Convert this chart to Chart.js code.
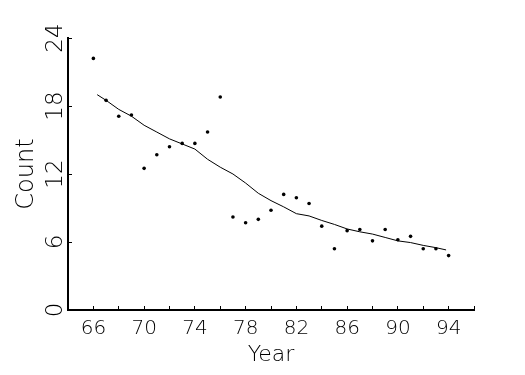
<!DOCTYPE html>
<html>
<head>
<meta charset="utf-8">
<script src="https://cdn.jsdelivr.net/npm/chart.js@4.4.1/dist/chart.umd.min.js"></script>
<style>
  body { margin: 0; background: #fff; }
  #chart { display: block; }
</style>
</head>
<body>
<canvas id="chart" width="525" height="375"></canvas>
<script>
// ===== data =====
const years = [66, 67, 68, 69, 70, 71, 72, 73, 74, 75, 76, 77, 78, 79, 80,
  81, 82, 83, 84, 85, 86, 87, 88, 89, 90, 91, 92, 93, 94];
const counts = [22.2, 18.5, 17.1, 17.2, 12.5, 13.7, 14.4, 14.7, 14.7, 15.7, 18.8, 8.2, 7.7, 8.0, 8.8,
  10.2, 9.9, 9.4, 7.4, 5.4, 7.0, 7.1, 6.1, 7.1, 6.2, 6.5, 5.4, 5.4, 4.8];

// smoothed trend line
const smoothYears = [66.3, 67, 68, 69, 70, 71, 72, 73, 74, 75, 76, 77, 78, 79, 80,
  81, 82, 83, 84, 85, 86, 87, 88, 89, 90, 91, 92, 93, 93.8];
const smoothCounts = [19.0, 18.5, 17.7, 17.1, 16.3, 15.7, 15.1, 14.65, 14.2, 13.3, 12.6, 12.0, 11.2, 10.3, 9.65,
  9.1, 8.5, 8.3, 7.9, 7.55, 7.15, 6.9, 6.7, 6.4, 6.1, 5.95, 5.7, 5.5, 5.3];

const xLabels = [66, 70, 74, 78, 82, 86, 90, 94];
const yLabels = [0, 6, 12, 18, 24];

// ===== helper =====
function toPoints(xs, ys) {
  return xs.map((x, i) => ({ x, y: ys[i] }));
}

const FONT = "'DejaVu Sans', sans-serif";

new Chart(document.getElementById("chart"), {
  type: "scatter",
  data: {
    datasets: [
      {
        label: "Trend",
        data: toPoints(smoothYears, smoothCounts),
        showLine: true,
        borderColor: "#000",
        borderWidth: 1,
        pointRadius: 0,
        fill: false
      },
      {
        label: "Count",
        data: toPoints(years, counts),
        backgroundColor: "#000",
        borderWidth: 0,
        pointRadius: 1.8
      }
    ]
  },
  options: {
    responsive: false,
    animation: false,
    layout: { padding: { top: 38, right: 51, left: 0, bottom: 0 } },
    plugins: { legend: { display: false }, tooltip: { enabled: false } },
    scales: {
      x: {
        type: "linear",
        min: 64,
        max: 96,
        afterFit(s) { s.height = 65; },
        border: { color: "#000", width: 2 },
        grid: { drawOnChartArea: false, drawTicks: true, tickLength: -4, color: "#000", lineWidth: 1 },
        ticks: {
          stepSize: 2,
          autoSkip: false,
          maxRotation: 0,
          padding: 11,
          color: "#000",
          font: { family: FONT, size: 20, weight: "200" },
          callback: v => xLabels.includes(v) ? String(v) : ""
        },
        title: {
          display: true,
          text: "Year",
          color: "#000",
          font: { family: FONT, size: 22, weight: "200" },
          padding: { top: 0, bottom: 7 }
        }
      },
      y: {
        min: 0,
        max: 24,
        afterFit(s) { s.width = 68; },
        border: { color: "#000", width: 2 },
        grid: { drawOnChartArea: false, drawTicks: true, tickLength: -4, color: "#000", lineWidth: 1 },
        ticks: {
          stepSize: 6,
          minRotation: 90,
          maxRotation: 90,
          crossAlign: "center",
          padding: 1,
          color: "#000",
          font: { family: FONT, size: 23, weight: "200" },
          callback: v => yLabels.includes(v) ? String(v) : ""
        },
        title: {
          display: true,
          text: "Count",
          color: "#000",
          font: { family: FONT, size: 24, weight: "200" },
          padding: { top: 12, bottom: 0 }
        }
      }
    }
  }
});
</script>
</body>
</html>
